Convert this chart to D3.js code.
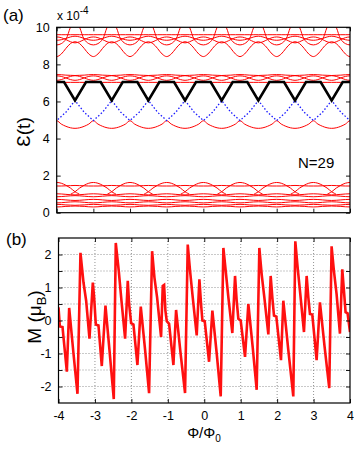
<!DOCTYPE html>
<html>
<head>
<meta charset="utf-8">
<script src="https://cdn.jsdelivr.net/npm/d3@7"></script>
<style>
body { margin: 0; background: #fff; }
text { font-family: "Liberation Sans", Arial, sans-serif; fill: #000; }
</style>
</head>
<body>
<svg id="chart" width="354" height="450"></svg>
<script>
// ---- data ----
var fluxTicks = [-4, -3, -2, -1, 0, 1, 2, 3, 4];
var energyTicks = [0, 2, 4, 6, 8, 10];
var mTicks = [-2, -1.5, -1, -0.5, 0, 0.5, 1, 1.5, 2];

// spectrum is periodic in flux; one period is sampled and repeated from each integer flux
var periodStarts = [-5, -4, -3, -2, -1, 0, 1, 2, 3, 4];

// red levels, in units of 1e-4, at these phase offsets from an integer flux
var levelPhase = [0, 0.125, 0.25, 0.375, 0.5, 0.625, 0.75, 0.875, 1];
var redLevels = [
    [0.31, 0.32, 0.34, 0.35, 0.36, 0.35, 0.34, 0.32, 0.31],
    [0.45, 0.44, 0.42, 0.41, 0.40, 0.41, 0.42, 0.44, 0.45],
    [0.53, 0.54, 0.56, 0.58, 0.59, 0.58, 0.56, 0.54, 0.53],
    [0.72, 0.71, 0.69, 0.67, 0.66, 0.67, 0.69, 0.71, 0.72],
    [0.86, 0.87, 0.89, 0.91, 0.92, 0.91, 0.89, 0.87, 0.86],
    [1.02, 1.01, 0.99, 0.97, 0.96, 0.97, 0.99, 1.01, 1.02],
    [1.44, 1.44, 1.45, 1.46, 1.47, 1.46, 1.45, 1.44, 1.44],
    [4.96, 4.78, 4.66, 4.58, 4.55, 4.58, 4.66, 4.78, 4.96],
    [7.03, 7.03, 7.03, 7.03, 7.03, 7.03, 7.03, 7.03, 7.03],
    [7.38, 7.35, 7.27, 7.18, 7.14, 7.18, 7.27, 7.35, 7.38],
    [7.14, 7.18, 7.27, 7.35, 7.39, 7.35, 7.27, 7.18, 7.14],
    [7.45, 7.44, 7.42, 7.41, 7.40, 7.41, 7.42, 7.44, 7.45],
    [8.42, 8.56, 8.86, 9.12, 9.22, 9.12, 8.86, 8.56, 8.42],
    [9.48, 9.44, 9.34, 9.22, 9.16, 9.22, 9.34, 9.44, 9.48],
    [9.30, 9.33, 9.40, 9.48, 9.52, 9.48, 9.40, 9.33, 9.30],
    [9.60, 9.60, 9.60, 9.60, 9.60, 9.60, 9.60, 9.60, 9.60],
    [9.05, 9.12, 9.35, 10.0, 10.45, 10.0, 9.35, 9.12, 9.05]
];

// low-lying arcs centred on integer flux, overlapping their neighbours
var arcPhase = [-0.62, -0.5, -0.375, -0.25, -0.125, 0, 0.125, 0.25, 0.375, 0.5, 0.62];
var arcLevel = [1.0, 1.13, 1.33, 1.48, 1.59, 1.63, 1.59, 1.48, 1.33, 1.13, 1.0];

// highest occupied level (black) and the branch below it (blue dotted)
var blackPhase = [0, 0.2, 0.5, 0.8, 1];
var blackLevel = [7.05, 7.05, 6.05, 7.05, 7.05];
var bluePhase = [0, 0.25, 0.5, 0.75, 1];
var blueLevel = [4.97, 5.42, 6.05, 5.42, 4.97];

// magnetisation, panel (b)
var mFlux = [
    -4.00, -3.963, -3.89, -3.771, -3.707, -3.589, -3.479, -3.397, -3.314, -3.241, -3.15, -3.058, -3.022,
    -2.976, -2.903, -2.812, -2.711, -2.601, -2.483, -2.428, -2.346, -2.272, -2.172, -2.099, -2.062,
    -2.007, -1.943, -1.834, -1.742, -1.623, -1.514, -1.431, -1.367, -1.294, -1.185, -1.139, -1.102, -1.066,
    -1.029, -0.965, -0.846, -0.773, -0.654, -0.527, -0.453, -0.389, -0.316, -0.207, -0.133, -0.088,
    -0.051, 0.013, 0.132, 0.223, 0.342, 0.452, 0.525, 0.589, 0.662, 0.771, 0.845, 0.89,
    0.936, 1.0, 1.119, 1.21, 1.329, 1.439, 1.512, 1.576, 1.649, 1.759, 1.823, 1.868,
    1.914, 1.978, 2.106, 2.17, 2.307, 2.444, 2.499, 2.563, 2.636, 2.737, 2.81, 2.856,
    2.901, 2.965, 3.084, 3.175, 3.303, 3.431, 3.495, 3.559, 3.632, 3.724, 3.788, 3.834,
    3.879, 3.934, 4.00
];
var mValue = [
    0.40, -0.18, -0.20, -1.55, 0.38, -1.00, -2.22, 2.05, 1.15, 0.60, -0.55, 1.15, 0.70,
    -0.12, -0.15, -1.38, 0.45, -0.90, -2.38, 2.35, 1.50, 0.60, -0.55, 1.20, 0.50,
    -0.08, -0.12, -1.35, 0.42, -0.90, -2.20, 2.10, 1.30, 0.70, -0.50, 1.05, 1.08, 0.30,
    -0.02, -0.10, -1.35, 0.32, -0.95, -2.20, 2.30, 1.50, 0.70, -0.45, 1.25, 0.50,
    0.00, -0.02, -1.25, 0.30, -1.00, -2.30, 2.20, 1.50, 0.70, -0.38, 1.35, 0.60,
    0.05, 0.00, -1.10, 0.50, -0.80, -2.10, 2.20, 1.40, 0.70, -0.42, 1.35, 0.70,
    0.15, 0.12, -1.20, 0.60, -0.90, -2.30, 2.40, 1.60, 0.80, -0.35, 1.35, 0.70,
    0.20, 0.18, -1.20, 0.55, -0.80, -2.05, 2.25, 1.50, 0.80, -0.40, 1.55, 0.90,
    0.25, 0.22, -0.35
];

// ---- layout ----
var svg = d3.select("#chart");

var xA = d3.scaleLinear().domain([-4, 4]).range([56.7, 350]);
var yA = d3.scaleLinear().domain([0, 10]).range([212.7, 27.3]);
var xB = d3.scaleLinear().domain([-4, 4]).range([58.5, 350]);
var yB = d3.scaleLinear().domain([-2.5, 2.5]).range([403, 238]);

// repeat one sampled period from every integer flux
function tiled(phase, vals)
{
    var pts = [];
    periodStarts.forEach(function(p, i)
    {
        phase.forEach(function(f, j)
        {
            if (i > 0 && j == 0) return;
            pts.push([p + f, vals[j]]);
        });
    });
    return pts;
}

svg.append("clipPath").attr("id", "clipA")
    .append("rect")
    .attr("x", xA(-4)).attr("y", yA(10))
    .attr("width", xA(4) - xA(-4)).attr("height", yA(0) - yA(10));

svg.append("clipPath").attr("id", "clipB")
    .append("rect")
    .attr("x", xB(-4)).attr("y", yB(2.5))
    .attr("width", xB(4) - xB(-4)).attr("height", yB(-2.5) - yB(2.5));

// ---- panel (a) ----
var lineA = d3.line()
    .x(function(d) { return xA(d[0]); })
    .y(function(d) { return yA(d[1]); });

var gA = svg.append("g").attr("clip-path", "url(#clipA)");

gA.selectAll("path.red")
    .data(redLevels)
    .enter().append("path")
    .attr("class", "red")
    .attr("d", function(v) { return lineA.curve(d3.curveCatmullRom)(tiled(levelPhase, v)); })
    .attr("fill", "none")
    .attr("stroke", "#ff0000")
    .attr("stroke-width", 1);

gA.selectAll("path.arc")
    .data(periodStarts.concat([5]))
    .enter().append("path")
    .attr("class", "arc")
    .attr("d", function(k)
    {
        var pts = arcPhase.map(function(f, j) { return [k + f, arcLevel[j]]; });
        return lineA.curve(d3.curveCatmullRom)(pts);
    })
    .attr("fill", "none")
    .attr("stroke", "#ff0000")
    .attr("stroke-width", 1);

gA.append("path")
    .attr("d", lineA.curve(d3.curveLinear)(tiled(bluePhase, blueLevel)))
    .attr("fill", "none")
    .attr("stroke", "#1a1aff")
    .attr("stroke-width", 1.3)
    .attr("stroke-dasharray", "1.5,2");

gA.append("path")
    .attr("d", lineA.curve(d3.curveLinear)(tiled(blackPhase, blackLevel)))
    .attr("fill", "none")
    .attr("stroke", "#000")
    .attr("stroke-width", 2.6)
    .attr("stroke-linejoin", "miter");

// axes of (a): ticks inside on all four sides
svg.append("g")
    .attr("transform", "translate(0," + yA(0) + ")")
    .call(d3.axisBottom(xA).tickValues(fluxTicks).tickSizeInner(-4).tickSizeOuter(0).tickFormat(""));
svg.append("g")
    .attr("transform", "translate(0," + yA(10) + ")")
    .call(d3.axisTop(xA).tickValues(fluxTicks).tickSizeInner(-4).tickSizeOuter(0).tickFormat(""));
svg.append("g")
    .attr("transform", "translate(" + xA(-4) + ",0)")
    .call(d3.axisLeft(yA).tickValues(energyTicks).tickSizeInner(-4).tickSizeOuter(0).tickPadding(7)
        .tickFormat(function(d) { return String(d); }));
svg.append("g")
    .attr("transform", "translate(" + xA(4) + ",0)")
    .call(d3.axisRight(yA).tickValues(energyTicks).tickSizeInner(-4).tickSizeOuter(0).tickFormat(""));

svg.append("rect")
    .attr("x", xA(-4)).attr("y", yA(10))
    .attr("width", xA(4) - xA(-4)).attr("height", yA(0) - yA(10))
    .attr("fill", "none").attr("stroke", "#000").attr("stroke-width", 1.2);

// ---- panel (b) ----
var gridB = svg.append("g");
gridB.selectAll("line.v")
    .data(fluxTicks.slice(1, -1))
    .enter().append("line")
    .attr("x1", function(d) { return xB(d); }).attr("x2", function(d) { return xB(d); })
    .attr("y1", yB(2.5)).attr("y2", yB(-2.5));
gridB.selectAll("line.h")
    .data(mTicks)
    .enter().append("line")
    .attr("x1", xB(-4)).attr("x2", xB(4))
    .attr("y1", function(d) { return yB(d); }).attr("y2", function(d) { return yB(d); });
gridB.selectAll("line")
    .attr("stroke", "#777")
    .attr("stroke-width", 0.8)
    .attr("stroke-dasharray", "1,2");

var lineB = d3.line()
    .x(function(d) { return xB(d); })
    .y(function(d, i) { return yB(mValue[i]); });

svg.append("g").attr("clip-path", "url(#clipB)")
    .append("path")
    .attr("d", lineB(mFlux))
    .attr("fill", "none")
    .attr("stroke", "#ff1010")
    .attr("stroke-width", 2.6)
    .attr("stroke-linejoin", "miter")
    .attr("stroke-miterlimit", 6);

svg.append("g")
    .attr("transform", "translate(0," + yB(-2.5) + ")")
    .call(d3.axisBottom(xB).tickValues(fluxTicks).tickSizeInner(-4).tickSizeOuter(0).tickPadding(8)
        .tickFormat(function(d) { return String(d); }));
svg.append("g")
    .attr("transform", "translate(0," + yB(2.5) + ")")
    .call(d3.axisTop(xB).tickValues(fluxTicks).tickSizeInner(-4).tickSizeOuter(0).tickFormat(""));
svg.append("g")
    .attr("transform", "translate(" + xB(-4) + ",0)")
    .call(d3.axisLeft(yB).tickValues(mTicks).tickSizeInner(-4).tickSizeOuter(0).tickPadding(7)
        .tickFormat(function(d) { return d % 1 == 0 ? String(d) : ""; }));
svg.append("g")
    .attr("transform", "translate(" + xB(4) + ",0)")
    .call(d3.axisRight(yB).tickValues(mTicks).tickSizeInner(-4).tickSizeOuter(0).tickFormat(""));

svg.append("rect")
    .attr("x", xB(-4)).attr("y", yB(2.5))
    .attr("width", xB(4) - xB(-4)).attr("height", yB(-2.5) - yB(2.5))
    .attr("fill", "none").attr("stroke", "#000").attr("stroke-width", 1.2);

// tick label styling
svg.selectAll(".tick text").attr("font-size", 12.5).attr("font-family", "Liberation Sans, Arial, sans-serif");
svg.selectAll(".tick line").attr("stroke-width", 0.9);
svg.selectAll(".domain").remove();

// ---- texts ----
svg.append("text").attr("x", 3).attr("y", 21).attr("font-size", 17).text("(a)");
svg.append("text").attr("x", 6).attr("y", 245).attr("font-size", 17).text("(b)");

var exp = svg.append("text").attr("x", 57).attr("y", 20).attr("font-size", 12);
exp.append("tspan").text("x 10");
exp.append("tspan").attr("dy", -6).attr("font-size", 10).text("-4");

svg.append("text")
    .attr("transform", "translate(30,132) rotate(-90)")
    .attr("text-anchor", "middle")
    .attr("font-size", 19)
    .text("\u0190(t)");

svg.append("text").attr("x", 298).attr("y", 168).attr("font-size", 15).text("N=29");

var mLab = svg.append("text")
    .attr("transform", "translate(41,317) rotate(-90)")
    .attr("text-anchor", "middle")
    .attr("font-size", 19);
mLab.append("tspan").text("M (\u03bc");
mLab.append("tspan").attr("dy", 5).attr("font-size", 13).text("B");
mLab.append("tspan").attr("dy", -5).text(")");

var xLab = svg.append("text")
    .attr("x", 204).attr("y", 438)
    .attr("text-anchor", "middle")
    .attr("font-size", 15);
xLab.append("tspan").text("\u03a6/\u03a6");
xLab.append("tspan").attr("dy", 4).attr("font-size", 10).text("0");
</script>
</body>
</html>
